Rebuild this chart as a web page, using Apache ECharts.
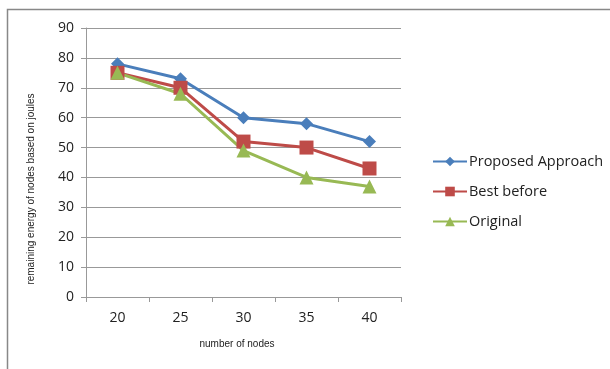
<!DOCTYPE html>
<html><head><meta charset="utf-8">
<script src="https://cdn.jsdelivr.net/npm/echarts@6/dist/echarts.min.js"></script>
<style>html,body{margin:0;padding:0;background:#fff}#c{width:610px;height:369px}</style>
</head><body><div id="c"></div>
<script>
const categories = ['20', '25', '30', '35', '40'];
const proposed = [78, 73, 60, 58, 52];
const bestBefore = [75, 70, 52, 50, 43];
const original = [75, 68, 49, 40, 37];
const seriesNames = ['Proposed Approach', 'Best before', 'Original'];
const xName = 'number of nodes';
const yName = 'remaining energy of nodes based on joules';

const chart = echarts.init(document.getElementById('c'));
const font = 'Open Sans, Liberation Sans, sans-serif';
function mk(name, data, color, symbol, size) {
  return {name, type: 'line', data, symbol, symbolSize: size,
    lineStyle: {color, width: 3}, itemStyle: {color}, color};
}
chart.setOption({
  animation: false,
  grid: {left: 86, right: 209, top: 28, bottom: 72},
  legend: {
    orient: 'vertical', left: 427, top: 149, itemGap: 15,
    itemWidth: 34, itemHeight: 12,
    textStyle: {fontFamily: font, fontSize: 14.5, color: '#222', padding: [0,0,0,-3]},
    data: seriesNames
  },
  xAxis: {
    type: 'category', data: categories, boundaryGap: true,
    axisLine: {lineStyle: {color: '#999'}},
    axisTick: {show: true, length: 5, lineStyle: {color: '#999'}},
    axisLabel: {fontFamily: font, fontSize: 14, color: '#222', margin: 14}
  },
  yAxis: {
    type: 'value', min: 0, max: 90, interval: 10,
    axisLine: {show: true, lineStyle: {color: '#999'}},
    axisTick: {show: true, length: 5, lineStyle: {color: '#999'}},
    axisLabel: {fontFamily: font, fontSize: 14, color: '#222', margin: 12},
    splitLine: {lineStyle: {color: '#999'}}
  },
  graphic: [
    {type: 'rect', shape: {x: 7.5, y: 9.5, width: 700, height: 400}, style: {fill: 'none', stroke: '#888', lineWidth: 1.5}, silent: true},
    {type: 'text', x: 31, y: 189, rotation: Math.PI / 2, style: {text: yName, fontFamily: 'Liberation Sans, Arial, sans-serif', fontSize: 10, fill: '#222', align: 'center', verticalAlign: 'middle'}},
    {type: 'text', x: 237, y: 344, style: {text: xName, fontFamily: 'Liberation Sans, Arial, sans-serif', fontSize: 10, fill: '#222', align: 'center', verticalAlign: 'middle'}}
  ],
  series: [
    mk(seriesNames[0], proposed, '#4a7ebb', 'diamond', 13),
    mk(seriesNames[1], bestBefore, '#be4b48', 'rect', 14),
    mk(seriesNames[2], original, '#98b954', 'triangle', 14)
  ]
});
</script></body></html>
